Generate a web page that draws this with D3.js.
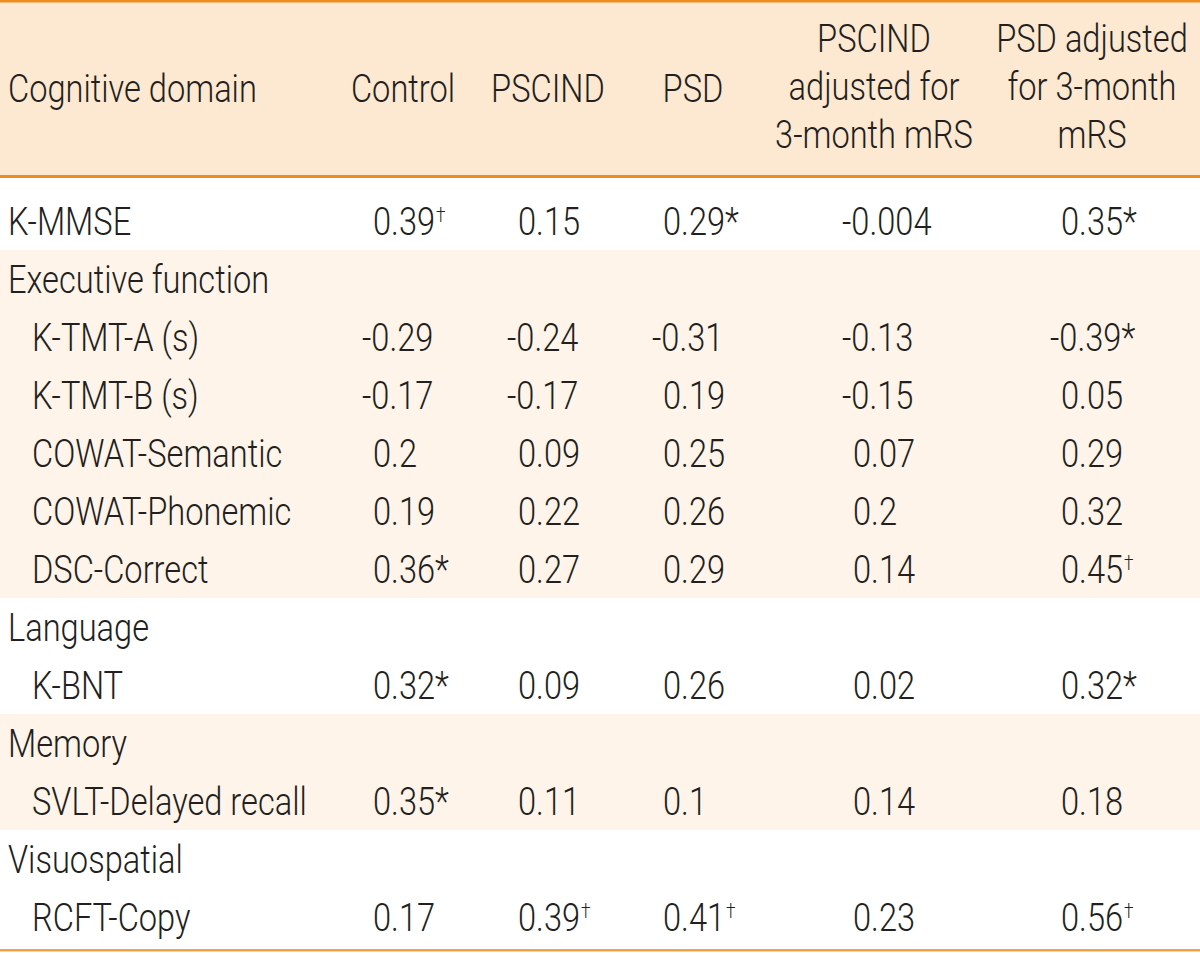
<!DOCTYPE html>
<html>
<head>
<meta charset="utf-8">
<script src="https://cdn.jsdelivr.net/npm/d3@7"></script>
<style>
  body { margin: 0; background: #fff; }
  svg text { font-family: Roboto, "Liberation Sans", sans-serif; font-weight: 300; fill: #231f20; }
</style>
</head>
<body>
<svg id="tbl"></svg>
<script>
// column headers (multi-line)
var headers = [
  ["Cognitive domain"],
  ["Control"],
  ["PSCIND"],
  ["PSD"],
  ["PSCIND", "adjusted for", "3-month mRS"],
  ["PSD adjusted", "for 3-month", "mRS"]
];

var rowLabels = ["K-MMSE", "Executive function", "K-TMT-A (s)", "K-TMT-B (s)", "COWAT-Semantic",
  "COWAT-Phonemic", "DSC-Correct", "Language", "K-BNT", "Memory", "SVLT-Delayed recall",
  "Visuospatial", "RCFT-Copy"];
// 1 = sub item (indented), 0 = domain heading
var rowLevel = [0, 0, 1, 1, 1, 1, 1, 0, 1, 0, 1, 0, 1];
// which domain group each row belongs to (for the shading bands)
var rowGroup = [0, 1, 1, 1, 1, 1, 1, 2, 2, 3, 3, 4, 4];

var control      = [0.39, null, -0.29, -0.17, 0.2, 0.19, 0.36, null, 0.32, null, 0.35, null, 0.17];
var controlSig   = ["†", "", "", "", "", "", "*", "", "*", "", "*", "", ""];
var pscind       = [0.15, null, -0.24, -0.17, 0.09, 0.22, 0.27, null, 0.09, null, 0.11, null, 0.39];
var pscindSig    = ["", "", "", "", "", "", "", "", "", "", "", "", "†"];
var psd          = [0.29, null, -0.31, 0.19, 0.25, 0.26, 0.29, null, 0.26, null, 0.1, null, 0.41];
var psdSig       = ["*", "", "", "", "", "", "", "", "", "", "", "", "†"];
var pscindAdj    = [-0.004, null, -0.13, -0.15, 0.07, 0.2, 0.14, null, 0.02, null, 0.14, null, 0.23];
var pscindAdjSig = ["", "", "", "", "", "", "", "", "", "", "", "", ""];
var psdAdj       = [0.35, null, -0.39, 0.05, 0.29, 0.32, 0.45, null, 0.32, null, 0.18, null, 0.56];
var psdAdjSig    = ["*", "", "*", "", "", "", "†", "", "*", "", "", "", "†"];

var series = [
  {vals: control, sig: controlSig},
  {vals: pscind, sig: pscindSig},
  {vals: psd, sig: psdSig},
  {vals: pscindAdj, sig: pscindAdjSig},
  {vals: psdAdj, sig: psdAdjSig}
];

var W = 1200, H = 953, fs = 38;
var orange = "#ee8c1f", headBg = "#fde8d1", bandBg = "#fef4ea";

var svg = d3.select("#tbl").attr("width", W).attr("height", H);

// the original uses a condensed face; squeeze the installed one to the same width
var probe = svg.append("text").attr("font-size", fs).text("Cognitive domain");
var sx = 249 / probe.node().getComputedTextLength();
probe.remove();

// scales
var headX = d3.scaleOrdinal().domain(d3.range(6)).range([8, 403, 548, 693, 874, 1092]);
var valX = d3.scaleOrdinal().domain(d3.range(5)).range([373, 518, 663, 853, 1061]);
var rowY = d3.scaleLinear().domain([1, 12]).range([250, 250 + 11 * 58]); // row tops
var rowTop = function(i) { return i === 0 ? 178 : rowY(i); };
var rowBase = function(i) { return i === 0 ? 235 : rowY(i) + 43; };

function txt(x, y, anchor) {
  return svg.append("text")
    .attr("font-size", fs)
    .attr("text-anchor", anchor || "start")
    .attr("transform", "translate(" + x + "," + y + ") scale(" + sx + ",1)");
}

// header background
svg.append("rect").attr("x", 0).attr("y", 0).attr("width", W).attr("height", 177).attr("fill", headBg);

// shaded bands for groups 1 and 3
[1, 3].forEach(function(g) {
  var idx = d3.range(rowLabels.length).filter(function(i) { return rowGroup[i] === g; });
  var y0 = rowTop(idx[0]), y1 = rowTop(idx[idx.length - 1]) + 58;
  svg.append("rect").attr("x", 0).attr("y", y0).attr("width", W).attr("height", y1 - y0).attr("fill", bandBg);
});

// rules
svg.append("rect").attr("x", 0).attr("y", 0).attr("width", W).attr("height", 2.5).attr("fill", orange);
svg.append("rect").attr("x", 0).attr("y", 175).attr("width", W).attr("height", 3).attr("fill", orange);
svg.append("rect").attr("x", 0).attr("y", 949).attr("width", W).attr("height", 2.5).attr("fill", "#f1a344");

// header text
var lineBase3 = [52, 100, 148];
headers.forEach(function(lines, c) {
  lines.forEach(function(l, k) {
    txt(headX(c), lines.length === 1 ? 102 : lineBase3[k], c === 0 ? "start" : "middle").text(l);
  });
});

// row labels
rowLabels.forEach(function(d, i) {
  txt(rowLevel[i] ? 32 : 8, rowBase(i)).text(d);
});

// values
series.forEach(function(s, c) {
  s.vals.forEach(function(v, i) {
    if (v === null) return;
    var neg = v < 0;
    var t = txt(valX(c) - (neg ? 11 : 0), rowBase(i));
    t.append("tspan").text(String(v));
    var m = s.sig[i];
    if (m === "†") {
      t.append("tspan").attr("font-size", 20).attr("dy", -13).attr("dx", 1).text(m);
    } else if (m === "*") {
      t.append("tspan").text(m);
    }
  });
});
</script>
</body>
</html>
